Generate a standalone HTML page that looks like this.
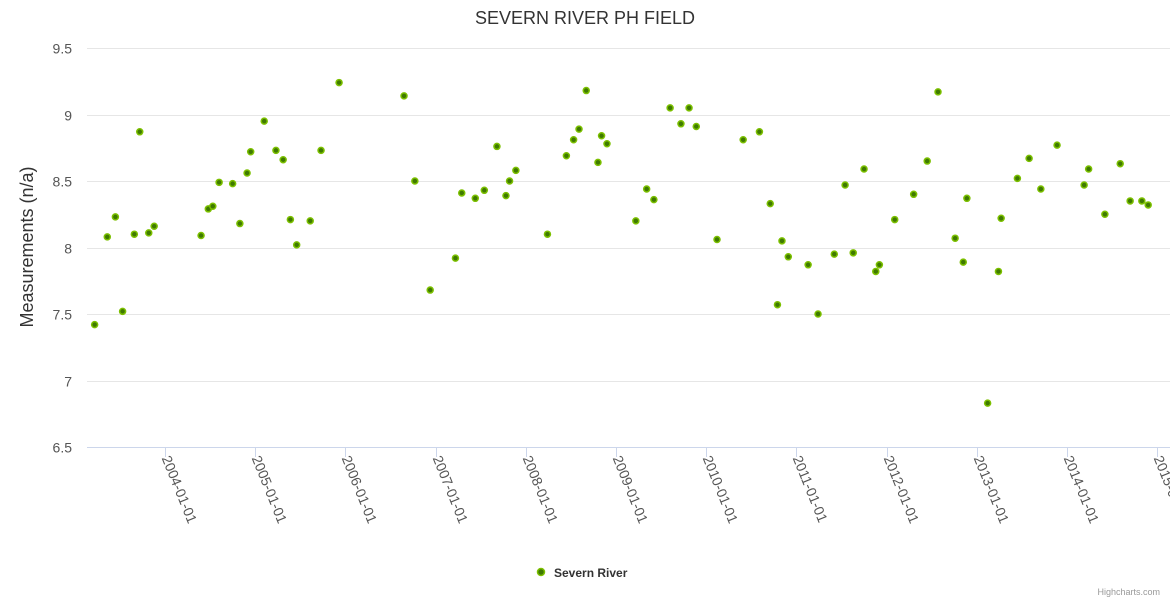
<!DOCTYPE html>
<html><head><meta charset="utf-8"><style>
body{margin:0;background:#fff;font-family:"Liberation Sans",sans-serif}
svg{display:block}
</style></head><body>
<svg id="chart" width="1170" height="600">
<text x="585" y="24" text-anchor="middle" font-size="18" fill="#333">SEVERN RIVER PH FIELD</text>
<text transform="translate(33,247) rotate(-90)" text-anchor="middle" font-size="18" fill="#333">Measurements (n/a)</text>
<g id="grid"></g><g id="ylabels"></g><g id="xaxis"></g><g id="points"></g>
<g>
<circle cx="541" cy="572" r="3.5" fill="#3f7a00" stroke="#7cc000" stroke-width="1.5"/>
<text x="554" y="577" font-size="12" font-weight="bold" fill="#333">Severn River</text>
</g>
<text x="1160" y="595" text-anchor="end" font-size="9" fill="#999">Highcharts.com</text>
</svg>
<script>
const yTicks=[6.5,7,7.5,8,8.5,9,9.5];
const yTickLabels=["6.5","7","7.5","8","8.5","9","9.5"];
const xTicks=[2004,2005,2006,2007,2008,2009,2010,2011,2012,2013,2014,2015];
const xTickLabels=["2004-01-01","2005-01-01","2006-01-01","2007-01-01","2008-01-01","2009-01-01","2010-01-01","2011-01-01","2012-01-01","2013-01-01","2014-01-01","2015-01-01"];
const dates=[2003.22,2003.36,2003.45,2003.53,2003.66,2003.72,2003.82,2003.88,2004.40,2004.48,2004.53,2004.60,2004.75,2004.83,2004.91,2004.95,2005.10,2005.23,2005.31,2005.39,2005.46,2005.61,2005.73,2005.93,2006.65,2006.77,2006.94,2007.22,2007.29,2007.44,2007.54,2007.68,2007.78,2007.82,2007.89,2008.24,2008.45,2008.53,2008.59,2008.67,2008.80,2008.84,2008.90,2009.22,2009.34,2009.42,2009.60,2009.72,2009.81,2009.89,2010.12,2010.41,2010.59,2010.71,2010.79,2010.84,2010.91,2011.13,2011.24,2011.42,2011.54,2011.63,2011.75,2011.88,2011.92,2012.09,2012.30,2012.45,2012.57,2012.76,2012.85,2012.89,2013.12,2013.24,2013.27,2013.45,2013.58,2013.71,2013.89,2014.19,2014.24,2014.42,2014.59,2014.70,2014.83,2014.90];
const values=[7.42,8.08,8.23,7.52,8.10,8.87,8.11,8.16,8.09,8.29,8.31,8.49,8.48,8.18,8.56,8.72,8.95,8.73,8.66,8.21,8.02,8.20,8.73,9.24,9.14,8.50,7.68,7.92,8.41,8.37,8.43,8.76,8.39,8.50,8.58,8.10,8.69,8.81,8.89,9.18,8.64,8.84,8.78,8.20,8.44,8.36,9.05,8.93,9.05,8.91,8.06,8.81,8.87,8.33,7.57,8.05,7.93,7.87,7.50,7.95,8.47,7.96,8.59,7.82,7.87,8.21,8.40,8.65,9.17,8.07,7.89,8.37,6.83,7.82,8.22,8.52,8.67,8.44,8.77,8.47,8.59,8.25,8.63,8.35,8.35,8.32];
const NS="http://www.w3.org/2000/svg";
const L=87,R=1170,T=48,B=447;
function xs(t){return 165+(t-2004)*90.2;}
function ys(v){return B-(v-6.5)/3*(B-T);}
function mk(tag,attrs,parent){const e=document.createElementNS(NS,tag);for(const k in attrs)e.setAttribute(k,attrs[k]);document.getElementById(parent).appendChild(e);return e;}
yTicks.forEach((v,i)=>{
 const y=Math.round(ys(v))+0.5;
 const g=mk('line',{x1:L,x2:R,y1:y,y2:y,stroke:i==0?'#ccd6eb':'#e6e6e6','stroke-width':1},'grid');
 
 
 const t=mk('text',{x:72,y:y+5,'text-anchor':'end','font-size':14,fill:'#555'},'ylabels');
 t.textContent=yTickLabels[i];
 
 
});
xTicks.forEach((v,i)=>{
 const x=Math.round(xs(v))+0.5;
 const tk=mk('line',{x1:x,x2:x,y1:B,y2:B+10,stroke:'#ccd6eb'},'xaxis');
 
 
 const t=mk('text',{x:0,y:0,'font-size':14,fill:'#555',transform:`translate(${x-4},${B+11}) rotate(68)`},'xaxis');
 t.textContent=xTickLabels[i];
 
 
});
dates.forEach((d,i)=>{
 const c=mk('circle',{cx:xs(d),cy:ys(values[i]),r:3,fill:'#3f7a00',stroke:'#7cc000','stroke-width':1.5},'points');
 
 
});
</script>
</body></html>
